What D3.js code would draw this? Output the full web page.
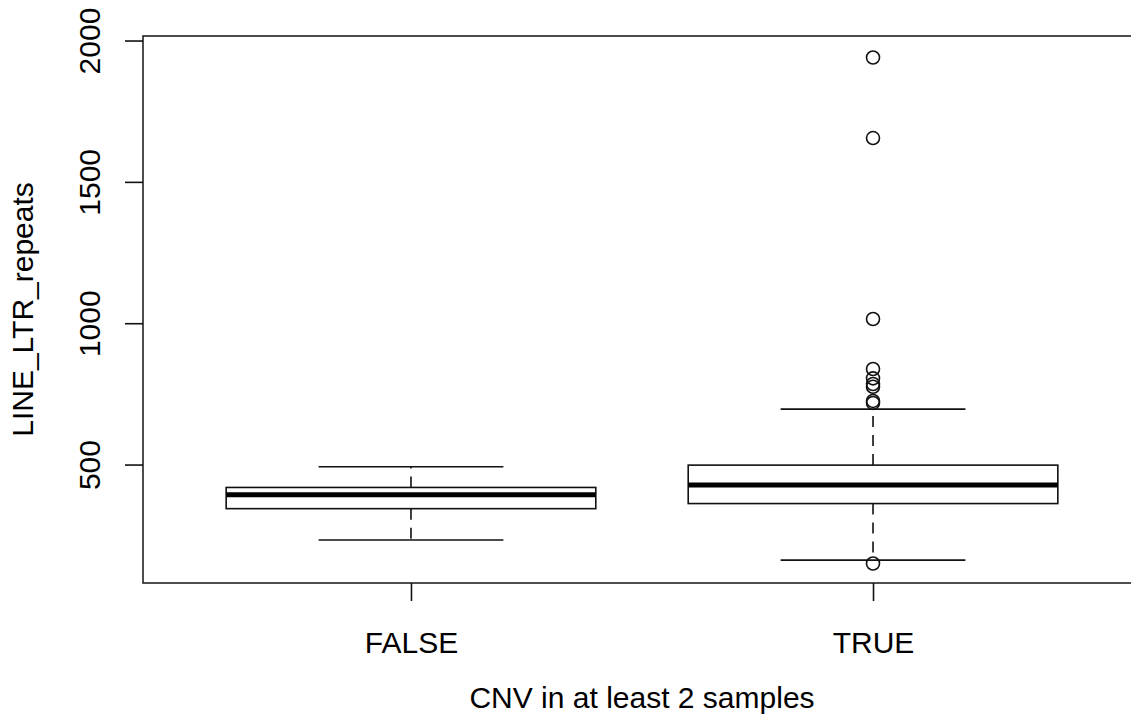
<!DOCTYPE html>
<html>
<head>
<meta charset="utf-8">
<script src="https://cdn.jsdelivr.net/npm/d3@7"></script>
<style>
  body { margin: 0; background: #fff; }
  text { font-family: "Liberation Sans", Arial, sans-serif; fill: #000; }
</style>
</head>
<body>
<svg width="1131" height="726"></svg>
<script>
// box stats
var groups = ["FALSE", "TRUE"];
var whiskerLow = [233, 162];
var q1 = [344, 362];
var medians = [393, 428];
var q3 = [419, 498];
var whiskerHigh = [492, 696];
var outliersFalse = [];
var outliersTrue = [150, 718, 725, 775, 785, 805, 838, 1015, 1655, 1940];
var yTicks = [500, 1000, 1500, 2000];

var svg = d3.select("svg");

// R-style plot region, right side runs past the picture edge
var plotLeft = 143, plotRight = 1141, plotTop = 36, plotBottom = 583;

var x = d3.scaleLinear().domain([0.42, 2.58]).range([plotLeft, plotRight]);
var y = d3.scaleLinear().domain([81, 2016]).range([plotBottom, plotTop]);

var boxes = groups.map(function(g, i) {
  return {
    name: g, pos: i + 1,
    lo: whiskerLow[i], q1: q1[i], med: medians[i], q3: q3[i], hi: whiskerHigh[i],
    out: i == 0 ? outliersFalse : outliersTrue
  };
});

var boxHalf = 0.4, capHalf = 0.2;
var ink = "#111";
var fontSize = "30px";

var g = svg.append("g");

// dashed whiskers, drawn from box edge outward
g.selectAll(".wlo").data(boxes).enter().append("line")
  .attr("x1", d => x(d.pos)).attr("x2", d => x(d.pos))
  .attr("y1", d => y(d.q1)).attr("y2", d => y(d.lo))
  .attr("stroke", ink).attr("stroke-width", 1.6)
  .attr("stroke-dasharray", "11,8");
g.selectAll(".whi").data(boxes).enter().append("line")
  .attr("x1", d => x(d.pos)).attr("x2", d => x(d.pos))
  .attr("y1", d => y(d.q3)).attr("y2", d => y(d.hi))
  .attr("stroke", ink).attr("stroke-width", 1.6)
  .attr("stroke-dasharray", "11,8");

// caps
["lo", "hi"].forEach(function(k) {
  g.selectAll(".cap" + k).data(boxes).enter().append("line")
    .attr("x1", d => x(d.pos - capHalf)).attr("x2", d => x(d.pos + capHalf))
    .attr("y1", d => y(d[k])).attr("y2", d => y(d[k]))
    .attr("stroke", ink).attr("stroke-width", 1.6);
});

// boxes
g.selectAll("rect").data(boxes).enter().append("rect")
  .attr("x", d => x(d.pos - boxHalf))
  .attr("width", d => x(d.pos + boxHalf) - x(d.pos - boxHalf))
  .attr("y", d => y(d.q3))
  .attr("height", d => y(d.q1) - y(d.q3))
  .attr("fill", "#fff").attr("stroke", ink).attr("stroke-width", 1.6);

// medians
g.selectAll(".med").data(boxes).enter().append("line")
  .attr("x1", d => x(d.pos - boxHalf)).attr("x2", d => x(d.pos + boxHalf))
  .attr("y1", d => y(d.med)).attr("y2", d => y(d.med))
  .attr("stroke", "#000").attr("stroke-width", 5);

// outliers
boxes.forEach(function(b) {
  g.selectAll(".o" + b.pos).data(b.out).enter().append("circle")
    .attr("cx", x(b.pos)).attr("cy", d => y(d))
    .attr("r", 6.5)
    .attr("fill", "none").attr("stroke", ink).attr("stroke-width", 1.6);
});

// frame
svg.append("rect")
  .attr("x", plotLeft).attr("y", plotTop)
  .attr("width", plotRight - plotLeft).attr("height", plotBottom - plotTop)
  .attr("fill", "none").attr("stroke", "#222").attr("stroke-width", 1.6);

// y axis, labels rotated like R's las=0
var yAxis = svg.append("g")
  .attr("transform", "translate(" + plotLeft + ",0)")
  .call(d3.axisLeft(y).tickValues(yTicks).tickSize(18).tickPadding(0).tickFormat(d3.format("d")));
yAxis.select(".domain").remove();
yAxis.selectAll("line").attr("stroke", ink).attr("stroke-width", 1.6);
yAxis.selectAll("text")
  .attr("x", 0).attr("y", 0).attr("dy", 0)
  .attr("transform", "translate(-43,0) rotate(-90)")
  .style("text-anchor", "middle")
  .style("font-size", fontSize)
  .style("font-family", "Liberation Sans, Arial, sans-serif")
  .attr("fill", "#000");

// x axis
var xAxis = svg.append("g")
  .attr("transform", "translate(0," + plotBottom + ")")
  .call(d3.axisBottom(x).tickValues([1, 2]).tickSize(18).tickPadding(0)
    .tickFormat(function(d) { return groups[d - 1]; }));
xAxis.select(".domain").remove();
xAxis.selectAll("line").attr("stroke", ink).attr("stroke-width", 1.6);
xAxis.selectAll("text")
  .attr("y", 70).attr("dy", 0)
  .style("font-size", fontSize)
  .style("font-family", "Liberation Sans, Arial, sans-serif")
  .attr("fill", "#000");

// titles
svg.append("text")
  .attr("x", (plotLeft + plotRight) / 2).attr("y", 708)
  .attr("text-anchor", "middle")
  .style("font-size", fontSize)
  .text("CNV in at least 2 samples");

svg.append("text")
  .attr("transform", "translate(33," + (plotTop + plotBottom) / 2 + ") rotate(-90)")
  .attr("text-anchor", "middle")
  .style("font-size", fontSize)
  .text("LINE_LTR_repeats");
</script>
</body>
</html>
